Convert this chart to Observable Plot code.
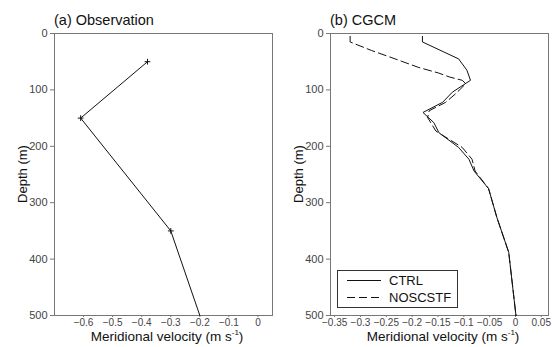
<!DOCTYPE html>
<html><head><meta charset="utf-8">
<script src="https://cdn.jsdelivr.net/npm/d3@7"></script>
<script src="https://cdn.jsdelivr.net/npm/@observablehq/plot@0.6"></script>
<style>
body{margin:0;background:#fff;font-family:"Liberation Sans",Arial,sans-serif;}
#wrap{position:relative;width:554px;height:347px;overflow:hidden;}
.p{position:absolute;top:0;}
.t{position:absolute;font-size:14.5px;line-height:17px;color:#111;white-space:nowrap;}
.xl{position:absolute;font-size:13.5px;line-height:14px;color:#111;white-space:nowrap;transform:translateX(-50%);}
.yl{position:absolute;font-size:13px;color:#111;white-space:nowrap;transform:translate(-50%,-50%) rotate(-90deg);}
sup{font-size:8px;line-height:0;vertical-align:6px;}
</style></head><body>
<div id="wrap"></div>
<script>
// Observation
const obsDepth = [50, 150, 350, 500];
const obsVel = [-0.38, -0.61, -0.30, -0.20];
const obsMarked = [true, true, true, false];

// CGCM CTRL
const ctrlDepth = [5, 15, 45, 65, 83, 104, 122, 140, 158, 176, 202, 223, 244, 275, 326, 388, 500];
const ctrlVel = [-0.18, -0.18, -0.11, -0.094, -0.087, -0.122, -0.141, -0.179, -0.158, -0.148, -0.110, -0.090, -0.080, -0.052, -0.036, -0.013, 0.001];
// CGCM NOSCSTF
const noDepth = [5, 15, 30, 45, 60, 70, 77, 83, 89, 107, 122, 137, 149, 173, 202, 223, 244, 275, 326, 388, 500];
const noVel = [-0.32, -0.32, -0.279, -0.233, -0.188, -0.149, -0.128, -0.103, -0.096, -0.116, -0.135, -0.167, -0.170, -0.154, -0.103, -0.084, -0.078, -0.052, -0.036, -0.013, 0.001];

const depthTicks = [0, 100, 200, 300, 400, 500];
const obsXTicks = [-0.6, -0.5, -0.4, -0.3, -0.2, -0.1, 0];
const cgcmXTicks = [-0.35, -0.3, -0.25, -0.2, -0.15, -0.1, -0.05, 0, 0.05];

const titles = ["(a) Observation", "(b) CGCM"];
const legendNames = ["CTRL", "NOSCSTF"];

const obs = obsDepth.map((d, i) => ({depth: d, v: obsVel[i], m: obsMarked[i]}));
const ctrl = ctrlDepth.map((d, i) => ({depth: d, v: ctrlVel[i]}));
const nosc = noDepth.map((d, i) => ({depth: d, v: noVel[i]}));

const style = {fontFamily: "Liberation Sans, Arial, sans-serif", fontSize: "11px", color: "#444", background: "transparent"};

function axes(xt){
  return [
    Plot.axisX({ticks: xt, tickSize: 2, tickPadding: 1, label: null, stroke: "#777", fontSize: 10, tickFormat: d3.format("~g")}),
    Plot.axisY({ticks: depthTicks, tickSize: 4, tickPadding: 3, label: null, stroke: "#777"}),
    Plot.frame({stroke: "#777"})
  ];
}

const pa = Plot.plot({
  width: 277, height: 347, marginLeft: 54, marginRight: 5, marginTop: 33, marginBottom: 32,
  style,
  x: {domain: [-0.7, 0.05]},
  y: {domain: [0, 500], reverse: true},
  marks: [
    ...axes(obsXTicks),
    Plot.line(obs, {x: "v", y: "depth", stroke: "#111", strokeWidth: 1}),
    Plot.dot(obs.filter(d => d.m), {x: "v", y: "depth", symbol: "plus", r: 2, stroke: "#111", strokeWidth: 1})
  ]
});

const pb = Plot.plot({
  width: 277, height: 347, marginLeft: 53, marginRight: 6, marginTop: 33, marginBottom: 32,
  style,
  x: {domain: [-0.358, 0.064]},
  y: {domain: [0, 500], reverse: true},
  marks: [
    ...axes(cgcmXTicks),
    Plot.line(nosc, {x: "v", y: "depth", stroke: "#111", strokeWidth: 1, strokeDasharray: "8,4"}),
    Plot.line(ctrl, {x: "v", y: "depth", stroke: "#111", strokeWidth: 1})
  ]
});

const wrap = document.getElementById("wrap");
pa.classList.add("p"); pa.style.left = "0px";
pb.classList.add("p"); pb.style.left = "277px";
wrap.appendChild(pa); wrap.appendChild(pb);

function add(html){ wrap.insertAdjacentHTML("beforeend", html); }
add(`<div class="t" style="left:54px;top:12px">${titles[0]}</div>`);
add(`<div class="t" style="left:330px;top:12px">${titles[1]}</div>`);
add(`<div class="xl" style="left:167px;top:330px">Meridional velocity (m s<sup>-1</sup>)</div>`);
add(`<div class="xl" style="left:443px;top:330px">Meridional velocity (m s<sup>-1</sup>)</div>`);
add(`<div class="yl" style="left:22px;top:174px">Depth (m)</div>`);
add(`<div class="yl" style="left:298px;top:174px">Depth (m)</div>`);
add(`<svg style="position:absolute;left:337px;top:270px" width="122" height="40">
  <rect x="0.5" y="0.5" width="120" height="37" fill="#fff" stroke="#333"/>
  <line x1="10" x2="44" y1="10.5" y2="10.5" stroke="#111"/>
  <line x1="10" x2="44" y1="27.5" y2="27.5" stroke="#111" stroke-dasharray="8,4"/>
  <text x="52" y="15" font-size="13" font-family="Liberation Sans, Arial, sans-serif" fill="#111">${legendNames[0]}</text>
  <text x="52" y="32" font-size="13" font-family="Liberation Sans, Arial, sans-serif" fill="#111">${legendNames[1]}</text>
</svg>`);
</script>
</body></html>
